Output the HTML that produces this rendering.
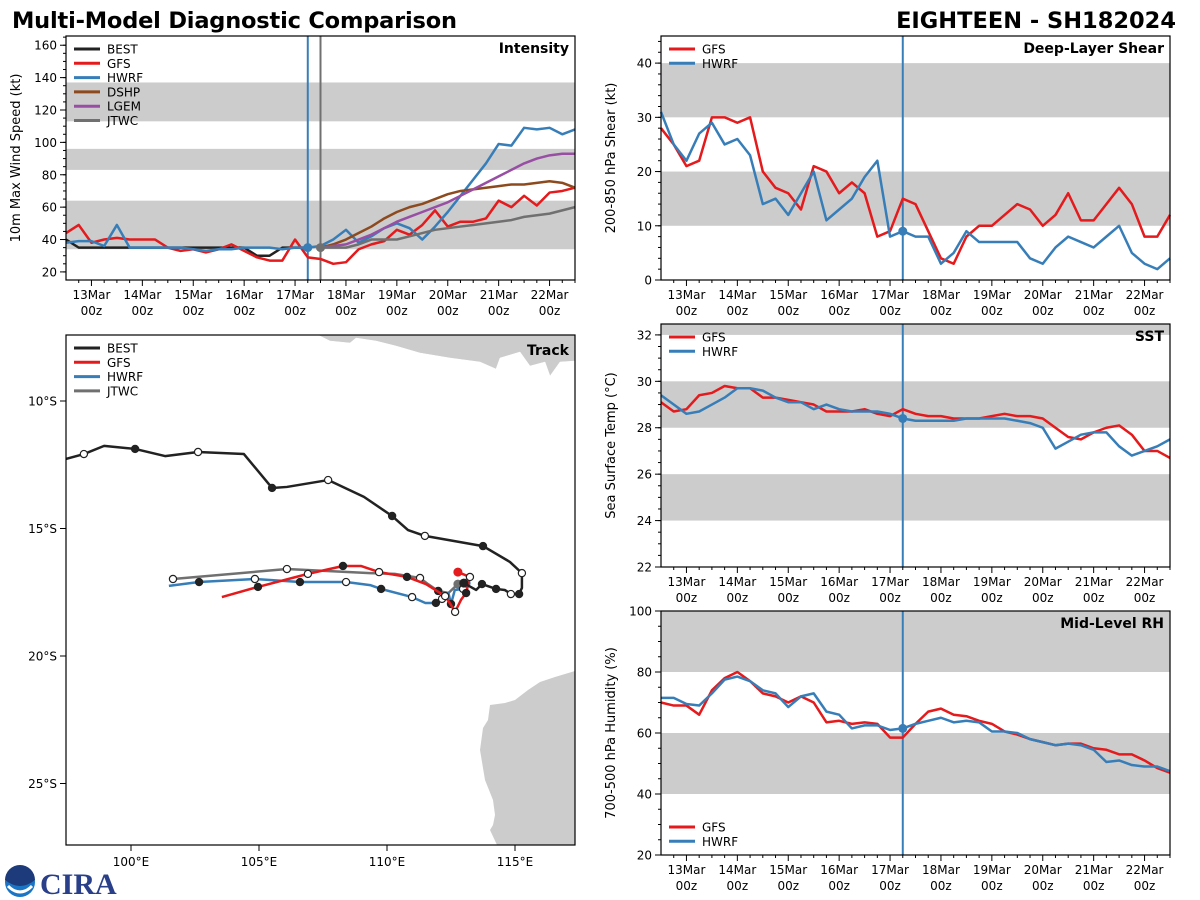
<!DOCTYPE html>
<html><head><meta charset="utf-8"><style>
body{margin:0;background:#fff}
svg{display:block;font-family:"DejaVu Sans","Liberation Sans",sans-serif}
</style></head><body>
<svg id="c" width="1200" height="900" viewBox="0 0 1200 900">
<text x="12" y="28" font-size="22.5" font-weight="bold" textLength="445">Multi-Model Diagnostic Comparison</text>
<text x="1176" y="28" font-size="22.5" font-weight="bold" text-anchor="end">EIGHTEEN - SH182024</text>
<g><circle cx="20" cy="882" r="15" fill="#1a75c4"/><path d="M5,880 A15,15 0 0 1 35,880 Q20,892 5,880Z" fill="#1d3b7a"/><path d="M8,886 Q20,898 32,886" stroke="#fff" stroke-width="3" fill="none"/></g>
<text x="40" y="894" font-size="30" font-weight="bold" fill="#2a3f8a" font-family="Liberation Serif,serif">CIRA</text>
<g id="plots"></g>
</svg>
<script>
// ---- data (6-hourly from 12Mar 12z, hours from 13Mar00z = -12 + 6*i) ----
const dateLabels=["13Mar","14Mar","15Mar","16Mar","17Mar","18Mar","19Mar","20Mar","21Mar","22Mar"];
const intBEST=[40,35,35,35,35,35,35,35,35,35,35,35,35,35,35,30,30,35,35,35];
const intGFS=[44,49,38,40,41,40,40,40,35,33,34,32,34,37,33,29,27,27,40,29,28,25,26,34,37,39,46,43,49,58,48,51,51,53,64,60,67,61,69,70,72];
const intHWRF=[38,39,39,36,49,35,35,35,35,35,34,33,34,34,35,35,35,34,35,35,36,40,46,38,42,47,50,47,40,48,57,67,77,87,99,98,109,108,109,105,108];
const intDSHP=[35,37,40,44,48,53,57,60,62,65,68,70,71,72,73,74,74,75,76,75,72];
const intLGEM=[35,36,37,40,43,47,51,54,57,60,63,67,71,75,79,83,87,90,92,93,93];
const intJTWC=[35,35,35,37,40,40,40,42,44,46,47,48,49,50,51,52,54,55,56,58,60];
const shrGFS=[28,25,21,22,30,30,29,30,20,17,16,13,21,20,16,18,16,8,9,15,14,9,4,3,8,10,10,12,14,13,10,12,16,11,11,14,17,14,8,8,12];
const shrHWRF=[31,25,22,27,29,25,26,23,14,15,12,16,20,11,13,15,19,22,8,9,8,8,3,5,9,7,7,7,7,4,3,6,8,7,6,8,10,5,3,2,4];
const sstGFS=[29.1,28.7,28.8,29.4,29.5,29.8,29.7,29.7,29.3,29.3,29.2,29.1,29.0,28.7,28.7,28.7,28.8,28.6,28.5,28.8,28.6,28.5,28.5,28.4,28.4,28.4,28.5,28.6,28.5,28.5,28.4,28.0,27.6,27.5,27.8,28.0,28.1,27.7,27.0,27.0,26.7];
const sstHWRF=[29.4,29.0,28.6,28.7,29.0,29.3,29.7,29.7,29.6,29.3,29.1,29.1,28.8,29.0,28.8,28.7,28.7,28.7,28.6,28.4,28.3,28.3,28.3,28.3,28.4,28.4,28.4,28.4,28.3,28.2,28.0,27.1,27.4,27.7,27.8,27.8,27.2,26.8,27.0,27.2,27.5];
const rhGFS=[70,69,69,66,74,78,80,77,73,72,70,72,70,63.5,64,63,63.5,63,58.5,58.5,63,67,68,66,65.5,64,63,60.5,59.5,58,57,56,56.5,56.5,55,54.5,53,53,51,48.5,47];
const rhHWRF=[71.5,71.5,69.5,69,73,77.5,78.5,77,74,73,68.5,72,73,67,66,61.5,62.5,62.5,61,61.5,63,64,65,63.5,64,63.5,60.5,60.5,60,58,57,56,56.5,56,54.5,50.5,51,49.5,49,49,47.5];
// track: lon (E), lat (S), marker (o open, f filled, n none)
const bestLon=[97.46,98.16,98.95,100.16,101.33,102.62,104.41,105.51,106.09,107.70,109.10,110.20,110.82,111.48,113.75,114.80,115.27,115.27,115.16,114.84,114.6,114.26,113.71,113.48,113.0];
const bestLat=[12.27,12.08,11.76,11.88,12.16,12.0,12.08,13.41,13.37,13.10,13.76,14.51,15.06,15.29,15.69,16.31,16.75,17.33,17.57,17.57,17.41,17.37,17.18,17.41,17.14];
const bestMk=["n","o","n","f","n","o","n","f","n","o","n","f","n","o","f","n","o","n","f","o","n","f","f","n","f"];
const gfsLon=[103.55,104.96,106.91,108.28,108.98,109.69,110.78,111.52,112.27,112.5,112.66,112.89,113.09,113.24,112.77];
const gfsLat=[17.69,17.29,16.78,16.47,16.47,16.71,16.90,17.18,17.65,18.0,18.27,17.80,17.53,16.90,16.71];
const gfsMk=["n","f","o","f","n","o","f","n","o","n","o","n","f","o","f"];
const hwrfLon=[101.48,102.66,104.84,106.60,108.40,109.34,109.77,110.98,111.5,111.91,112.15,112.4,112.5,112.65,112.97,113.09];
const hwrfLat=[17.25,17.10,16.98,17.10,17.10,17.22,17.37,17.69,17.92,17.92,17.76,17.53,17.96,17.41,17.37,17.14];
const hwrfMk=["n","f","o","f","o","n","f","o","n","f","o","n","f","n","o","f"];
const jtwcLon=[101.64,106.09,109.34,110.3,111.29,111.6,112.0,112.4,112.77];
const jtwcLat=[16.98,16.59,16.75,16.78,16.94,17.18,17.45,17.53,17.18];
const jtwcMk=["o","o","n","n","o","n","f","n","f"];

const NS="http://www.w3.org/2000/svg";
const root=document.getElementById('plots');
function el(t,a,p){const e=document.createElementNS(NS,t);for(const k in a)e.setAttribute(k,a[k]);(p||root).appendChild(e);return e;}
const C={BEST:"#222",GFS:"#e41a1c",HWRF:"#377eb8",DSHP:"#8c4a1e",LGEM:"#984ea3",JTWC:"#707070"};

function panel(o){
  const g=el('g',{});
  
  
  const X=h=>o.x0+(h+12)/240*(o.x1-o.x0);
  const Y=v=>o.y1-(v-o.vmin)/(o.vmax-o.vmin)*(o.y1-o.y0);
  o.bands.forEach(b=>{const r=el('rect',{x:o.x0,y:Y(Math.min(b[1],o.vmax)),width:o.x1-o.x0,height:Y(b[0])-Y(Math.min(b[1],o.vmax)),fill:"#cccccc"},g);
    });
  for(let h=-6;h<=228;h+=6){const x=X(h);const maj=(h%24===0);el('line',{x1:x,x2:x,y1:o.y1,y2:o.y1+(maj?6:3),stroke:"#000"},g);}
  dateLabels.forEach((d,i)=>{const x=X(i*24);
    const t=el('text',{x:x,y:o.y1+19,'font-size':12,'text-anchor':'middle'},g);t.textContent=d;
    
    const t2=el('text',{x:x,y:o.y1+35,'font-size':12,'text-anchor':'middle'},g);t2.textContent="00z";
    });
  for(let v=o.vmin0;v<=o.vmax;v+=o.minor){const y=Y(v);el('line',{x1:o.x0-3,x2:o.x0,y1:y,y2:y,stroke:"#000"},g);}
  o.ticks.forEach(v=>{const y=Y(v);el('line',{x1:o.x0-6,x2:o.x0,y1:y,y2:y,stroke:"#000"},g);
    const t=el('text',{x:o.x0-9,y:y+4.5,'font-size':12,'text-anchor':'end'},g);t.textContent=v;
    });
  const yt=el('text',{x:0,y:0,'font-size':13,'text-anchor':'middle',transform:`translate(${o.x0-46},${(o.y0+o.y1)/2}) rotate(-90)`},g);
  yt.textContent=o.ytitle;
  o.vlines.forEach(v=>{const l=el('line',{x1:X(v[0]),x2:X(v[0]),y1:o.y0,y2:o.y1,stroke:v[1],'stroke-width':2},g);
    });
  o.series.forEach(s=>{const pts=s.v.map((v,i)=>X(-12+6*(i+s.start))+","+Y(v)).join(" ");
    const p=el('polyline',{points:pts,fill:"none",stroke:C[s.n],'stroke-width':2.5,'stroke-linejoin':'round'},g);
    
    if(s.dot!==undefined){const i=s.dot;const d=el('circle',{cx:X(-12+6*(i+s.start)),cy:Y(s.v[i]),r:4.5,fill:C[s.n]},g);
      }});
  el('rect',{x:o.x0,y:o.y0,width:o.x1-o.x0,height:o.y1-o.y0,fill:"none",stroke:"#000",'stroke-width':1.2},g);
  const tt=el('text',{x:o.x1-6,y:o.y0+17,'font-size':14,'font-weight':'bold','text-anchor':'end'},g);tt.textContent=o.title;
  
  legend(g,o.x0+8,o.ly,o.legend);
}
function legend(g,x,y,names){
  names.forEach((n,i)=>{const yy=y+i*14.3;
    const l=el('line',{x1:x,x2:x+26,y1:yy,y2:yy,stroke:C[n],'stroke-width':3},g);
    
    const t=el('text',{x:x+33,y:yy+4.5,'font-size':12},g);t.textContent=n;
    });
}
panel({name:'intensity',x0:66,x1:575,y0:36,y1:280,vmin:15,vmax:165.7,vmin0:20,minor:5,ticks:[20,40,60,80,100,120,140,160],
  bands:[[34,64],[83,96],[113,137]],ytitle:"10m Max Wind Speed (kt)",title:"Intensity",ly:49,
  legend:["BEST","GFS","HWRF","DSHP","LGEM","JTWC"],vlines:[[102,"#377eb8"],[108,"#707070"]],
  series:[{n:"BEST",v:intBEST,start:0},{n:"GFS",v:intGFS,start:0},{n:"HWRF",v:intHWRF,start:0,dot:19},
    {n:"DSHP",v:intDSHP,start:20},{n:"LGEM",v:intLGEM,start:20},{n:"JTWC",v:intJTWC,start:20,dot:0}]});
panel({name:'shear',x0:661,x1:1170,y0:36,y1:280,vmin:0,vmax:45,vmin0:0,minor:2,ticks:[0,10,20,30,40],
  bands:[[10,20],[30,40]],ytitle:"200-850 hPa Shear (kt)",title:"Deep-Layer Shear",ly:49,legend:["GFS","HWRF"],
  vlines:[[102,"#377eb8"]],series:[{n:"GFS",v:shrGFS,start:0},{n:"HWRF",v:shrHWRF,start:0,dot:19}]});
panel({name:'sst',x0:661,x1:1170,y0:324,y1:567,vmin:22,vmax:32.47,vmin0:22,minor:0.5,ticks:[22,24,26,28,30,32],
  bands:[[24,26],[28,30],[32,33]],ytitle:"Sea Surface Temp (°C)",title:"SST",ly:337,legend:["GFS","HWRF"],
  vlines:[[102,"#377eb8"]],series:[{n:"GFS",v:sstGFS,start:0},{n:"HWRF",v:sstHWRF,start:0,dot:19}]});
panel({name:'rh',x0:661,x1:1170,y0:611,y1:855,vmin:20,vmax:100,vmin0:20,minor:5,ticks:[20,40,60,80,100],
  bands:[[40,60],[80,100]],ytitle:"700-500 hPa Humidity (%)",title:"Mid-Level RH",ly:827,legend:["GFS","HWRF"],
  vlines:[[102,"#377eb8"]],series:[{n:"GFS",v:rhGFS,start:0},{n:"HWRF",v:rhHWRF,start:0,dot:19}]});

(function(){
  const x0=66,x1=575,y0=335,y1=845;
  const g=el('g',{});
  
  
  const LX=l=>131+(l-100)*25.6, LY=l=>401+(l-10)*25.5;
  const cp=el('clipPath',{id:'tc'},g);el('rect',{x:x0,y:y0,width:x1-x0,height:y1-y0},cp);
  const land=el('g',{'clip-path':'url(#tc)'},g);
  const l1=el('polygon',{points:"318,335 330,341 350,343 356,338 376,341 396,346 420,353 450,358 480,362 496,369 500,358 520,352 530,366 545,362 550,376 560,362 575,361 575,335",fill:"#cccccc",stroke:"#fff",'stroke-width':0.5},land);
  
  const l2=el('polygon',{points:"575,671 555,677 540,682 528,690 515,700 505,703 490,705 488,720 483,728 480,750 485,780 493,800 495,815 493,825 490,830 497,845 575,845",fill:"#cccccc"},land);
  
  [[100,"100°E"],[105,"105°E"],[110,"110°E"],[115,"115°E"]].forEach(a=>{const x=LX(a[0]);el('line',{x1:x,x2:x,y1:y1,y2:y1+6,stroke:"#000"},g);
    const t=el('text',{x:x,y:y1+21,'font-size':12,'text-anchor':'middle'},g);t.textContent=a[1];
    });
  [[10,"10°S"],[15,"15°S"],[20,"20°S"],[25,"25°S"]].forEach(a=>{const y=LY(a[0]);el('line',{x1:x0-6,x2:x0,y1:y,y2:y,stroke:"#000"},g);
    const t=el('text',{x:x0-9,y:y+4.5,'font-size':12,'text-anchor':'end'},g);t.textContent=a[1];
    });
  function trk(n,lon,lat,mk){
    const tg=el('g',{'clip-path':'url(#tc)'},g);
    const p=el('polyline',{points:lon.map((v,i)=>LX(v)+","+LY(lat[i])).join(" "),fill:"none",stroke:C[n],'stroke-width':2.5,'stroke-linejoin':'round'},tg);
    
    mk.forEach((m,i)=>{if(m==="n")return;
      const c=el('circle',{cx:LX(lon[i]),cy:LY(lat[i]),r:3.6,fill:m==="o"?"#fff":"#222",stroke:"#222",'stroke-width':1.2},tg);
      });
    const e=lon.length-1;const d=el('circle',{cx:LX(lon[e]),cy:LY(lat[e]),r:4.5,fill:C[n]},tg);
    
  }
  trk("JTWC",jtwcLon,jtwcLat,jtwcMk);
  trk("HWRF",hwrfLon,hwrfLat,hwrfMk);
  trk("GFS",gfsLon,gfsLat,gfsMk);
  trk("BEST",bestLon,bestLat,bestMk);
  el('rect',{x:x0,y:y0,width:x1-x0,height:y1-y0,fill:"none",stroke:"#000",'stroke-width':1.2},g);
  const tt=el('text',{x:x1-6,y:y0+20,'font-size':14,'font-weight':'bold','text-anchor':'end'},g);tt.textContent="Track";
  
  legend(g,x0+8,y0+13,["BEST","GFS","HWRF","JTWC"]);
})();
</script>
</body></html>
